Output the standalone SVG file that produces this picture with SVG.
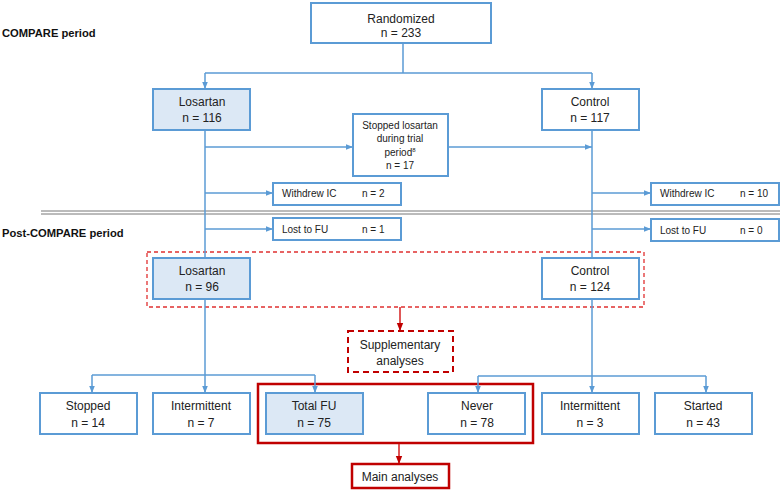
<svg xmlns="http://www.w3.org/2000/svg" width="782" height="492" viewBox="0 0 782 492">
<style>
text{font-family:"Liberation Sans",Arial,sans-serif;fill:#222;text-anchor:middle}
.b{fill:#fff;stroke:#5b9bd5;stroke-width:2}
.f{fill:#dce8f5;stroke:#5b9bd5;stroke-width:2}
.t{font-size:12px}
.s{font-size:10px}
.l{text-anchor:start}
.h{font-size:11.2px;font-weight:bold;text-anchor:start;fill:#111}
.c{fill:none;stroke:#5b9bd5;stroke-width:1.5}
.r{fill:none;stroke:#d42020;stroke-width:1.5}
</style>
<defs>
<marker id="ab" viewBox="0 0 10 10" refX="10" refY="5" markerWidth="7" markerHeight="7" markerUnits="userSpaceOnUse" orient="auto"><path d="M0,1 L10,5 L0,9 z" fill="#5b9bd5"/></marker>
<marker id="ar" viewBox="0 0 10 10" refX="10" refY="5" markerWidth="8" markerHeight="8" markerUnits="userSpaceOnUse" orient="auto"><path d="M0,1 L10,5 L0,9 z" fill="#c00000"/></marker>
</defs>

<text class="h" x="2" y="37">COMPARE period</text>
<text class="h" x="2" y="237">Post-COMPARE period</text>
<line x1="41" y1="211" x2="780" y2="211" stroke="#777" stroke-width="1"/>
<line x1="41" y1="214" x2="780" y2="214" stroke="#777" stroke-width="1"/>

<rect x="147" y="252" width="497" height="55" fill="none" stroke="#e03030" stroke-width="1.3" stroke-dasharray="4,3"/>
<rect x="258" y="384" width="275" height="59" fill="none" stroke="#c00000" stroke-width="2.5"/>

<g id="connectors">
<path class="c" d="M403,43 V73 M205,73 H592"/>
<path class="c" d="M205,73 V89" marker-end="url(#ab)"/>
<path class="c" d="M592,73 V89" marker-end="url(#ab)"/>
<path class="c" d="M205,130 V258"/>
<path class="c" d="M592,130 V258"/>
<path class="c" d="M205,147 H353" marker-end="url(#ab)"/>
<path class="c" d="M448,147 H592" marker-end="url(#ab)"/>
<path class="c" d="M205,193 H273" marker-end="url(#ab)"/>
<path class="c" d="M205,229 H273" marker-end="url(#ab)"/>
<path class="c" d="M592,193 H651" marker-end="url(#ab)"/>
<path class="c" d="M592,229 H651" marker-end="url(#ab)"/>
<path class="c" d="M205,299 V393" marker-end="url(#ab)"/>
<path class="c" d="M92,375 H315"/>
<path class="c" d="M92,375 V393" marker-end="url(#ab)"/>
<path class="c" d="M315,375 V393" marker-end="url(#ab)"/>
<path class="c" d="M592,299 V393" marker-end="url(#ab)"/>
<path class="c" d="M478,376 H706"/>
<path class="c" d="M478,376 V393" marker-end="url(#ab)"/>
<path class="c" d="M706,376 V393" marker-end="url(#ab)"/>
<path class="r" d="M400,307 V331" marker-end="url(#ar)"/>
<path class="r" d="M399,444 V464" marker-end="url(#ar)" stroke="#c00000"/>
</g>

<g id="randomized"><rect class="b" x="311" y="3" width="180" height="40"/><text class="t" x="401" y="23">Randomized</text><text class="t" x="401" y="37">n = 233</text></g>
<g id="losartan116"><rect class="f" x="153" y="89" width="97" height="41"/><text class="t" x="202" y="106">Losartan</text><text class="t" x="202" y="122">n = 116</text></g>
<g id="control117"><rect class="b" x="542" y="89" width="97" height="41"/><text class="t" x="590" y="106">Control</text><text class="t" x="590" y="122">n = 117</text></g>
<g id="stopped17"><rect class="b" x="353" y="114" width="95" height="62"/><text class="s" x="400" y="129">Stopped losartan</text><text class="s" x="400" y="142">during trial</text><text class="s" x="400" y="156">period<tspan font-size="6" dy="-4">8</tspan></text><text class="s" x="400" y="169">n = 17</text></g>
<g id="withdrewL"><rect class="b" x="273" y="183" width="128" height="22"/><text class="s l" x="282" y="197">Withdrew IC</text><text class="s l" x="362" y="197">n = 2</text></g>
<g id="withdrewR"><rect class="b" x="651" y="183" width="128" height="22"/><text class="s l" x="660" y="197">Withdrew IC</text><text class="s l" x="740" y="197">n = 10</text></g>
<g id="lostL"><rect class="b" x="273" y="218" width="128" height="22"/><text class="s l" x="282" y="233">Lost to FU</text><text class="s l" x="362" y="233">n = 1</text></g>
<g id="lostR"><rect class="b" x="651" y="219" width="128" height="22"/><text class="s l" x="660" y="234">Lost to FU</text><text class="s l" x="740" y="234">n = 0</text></g>
<g id="losartan96"><rect class="f" x="153" y="258" width="97" height="41"/><text class="t" x="202" y="275">Losartan</text><text class="t" x="202" y="291">n = 96</text></g>
<g id="control124"><rect class="b" x="542" y="258" width="97" height="41"/><text class="t" x="590" y="275">Control</text><text class="t" x="590" y="291">n = 124</text></g>
<g id="supplementary"><rect x="348" y="331" width="105" height="41" fill="#fff" stroke="#c00000" stroke-width="2" stroke-dasharray="6,4"/><text class="t" x="400" y="349">Supplementary</text><text class="t" x="400" y="365">analyses</text></g>
<g id="stopped14"><rect class="b" x="40" y="393" width="97" height="41"/><text class="t" x="88" y="410">Stopped</text><text class="t" x="88" y="427">n = 14</text></g>
<g id="intermittent7"><rect class="b" x="153" y="393" width="97" height="41"/><text class="t" x="201" y="410">Intermittent</text><text class="t" x="201" y="427">n = 7</text></g>
<g id="totalfu"><rect class="f" x="266" y="393" width="97" height="41"/><text class="t" x="314" y="410">Total FU</text><text class="t" x="314" y="427">n = 75</text></g>
<g id="never"><rect class="b" x="428" y="393" width="97" height="41"/><text class="t" x="477" y="410">Never</text><text class="t" x="477" y="427">n = 78</text></g>
<g id="intermittent3"><rect class="b" x="542" y="393" width="97" height="41"/><text class="t" x="590" y="410">Intermittent</text><text class="t" x="590" y="427">n = 3</text></g>
<g id="started"><rect class="b" x="655" y="393" width="97" height="41"/><text class="t" x="703" y="410">Started</text><text class="t" x="703" y="427">n = 43</text></g>
<g id="main"><rect x="352" y="464" width="97" height="24" fill="#fff" stroke="#c00000" stroke-width="2.5"/><text class="t" x="400" y="481">Main analyses</text></g>
</svg>
